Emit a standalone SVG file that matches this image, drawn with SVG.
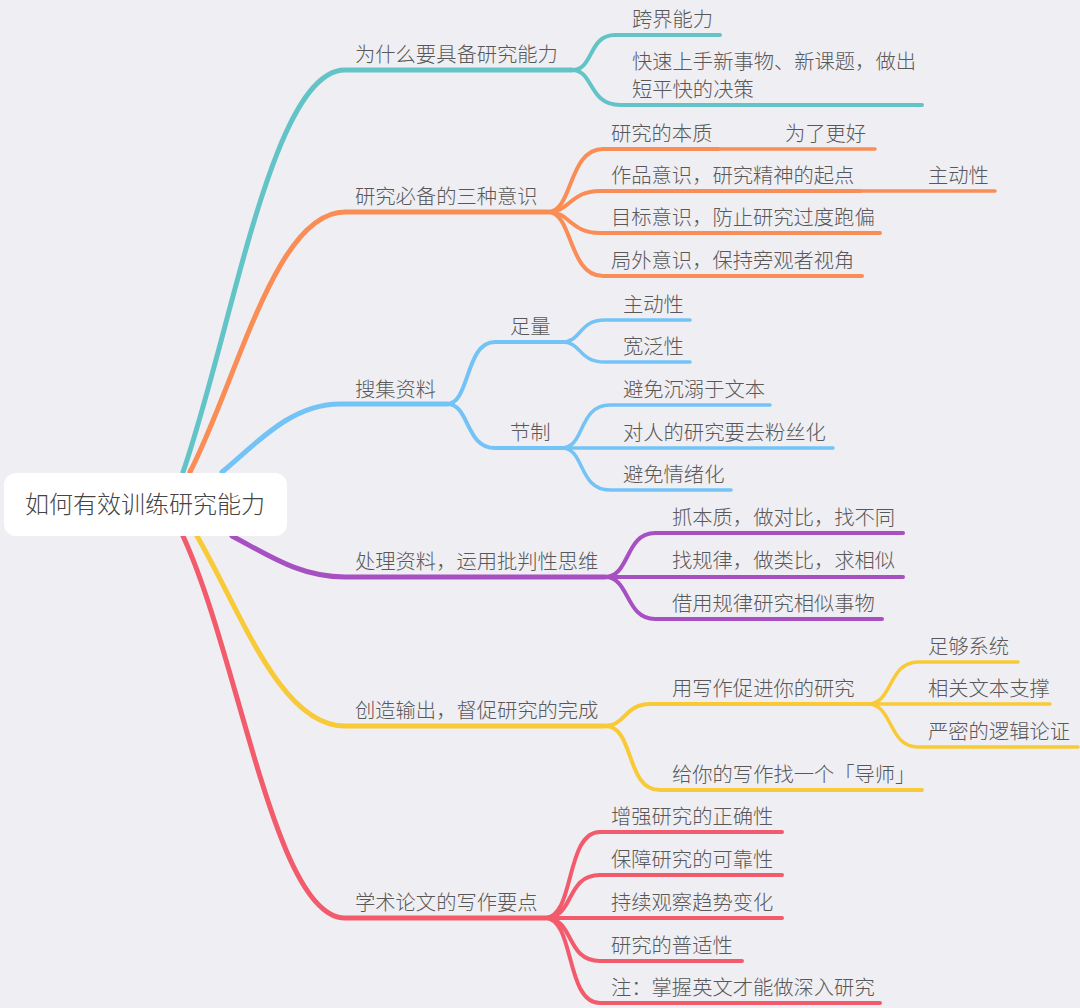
<svg xmlns="http://www.w3.org/2000/svg" width="1080" height="1008" viewBox="0 0 1080 1008">
<style>
text{font-family:"Noto Sans CJK SC","Noto Sans",sans-serif;font-size:20.3px;font-weight:300;fill:#585858}
.root{font-size:24px;fill:#444}
path{fill:none;stroke-linecap:round;stroke-linejoin:round}
.m{stroke-width:5}
.c{stroke-width:4}
.g{stroke-width:3.5}
.t{stroke:#62C4C7}.o{stroke:#F98D55}.b{stroke:#74C3F6}.p{stroke:#A650C2}.y{stroke:#F8CA37}.r{stroke:#F25B6B}
</style>
<rect width="1080" height="1008" fill="#EFEEF3"/>
<g id="connectors">
<path class="m t" d="M183,472 C232,331 272,70 345,70 L572,70"/>
<path class="c t" d="M572,70 C594,70 588,35 615,35 L720,35"/>
<path class="c t" d="M572,70 C594,70 588,105 620,105 L922,105"/>
<path class="m o" d="M190,472 C237,381 275,212 345,212 L548,212"/>
<path class="c o" d="M548,212 C573,212 568,149 603,149 L718,149"/>
<path class="g o" d="M718,149 L875,149"/>
<path class="c o" d="M548,212 C570,212 570,191 600,191 L860,191"/>
<path class="g o" d="M860,191 L995,191"/>
<path class="c o" d="M548,212 C570,212 570,233 600,233 L880,233"/>
<path class="c o" d="M548,212 C573,212 568,276 603,276 L862,276"/>
<path class="m b" d="M222,472 C255,445 290,404 340,404 L447,404"/>
<path class="c b" d="M447,404 C470,404 465,342 495,342 L562,342"/>
<path class="c b" d="M447,404 C470,404 465,448 495,448 L562,448"/>
<path class="g b" d="M562,342 C582,342 578,320 605,320 L690,320"/>
<path class="g b" d="M562,342 C582,342 578,362 605,362 L690,362"/>
<path class="g b" d="M562,448 C585,448 578,405 610,405 L770,405"/>
<path class="g b" d="M562,448 L833,448"/>
<path class="g b" d="M562,448 C585,448 578,490 610,490 L731,490"/>
<path class="m p" d="M232,536 C270,556 300,577 345,577 L605,577"/>
<path class="c p" d="M605,577 C630,577 625,533 655,533 L903,533"/>
<path class="c p" d="M605,577 L903,577"/>
<path class="c p" d="M605,577 C630,577 625,619 655,619 L882,619"/>
<path class="m y" d="M197,536 C240,610 280,726 345,726 L605,726"/>
<path class="c y" d="M605,726 C625,726 625,704 650,704 L868,704"/>
<path class="c y" d="M605,726 C635,726 625,790 660,790 L922,790"/>
<path class="g y" d="M868,704 C893,704 888,662 918,662 L1018,662"/>
<path class="g y" d="M868,704 L1050,704"/>
<path class="g y" d="M868,704 C893,704 888,747 918,747 L1078,747"/>
<path class="m r" d="M183,536 C240,660 275,918 345,918 L545,918"/>
<path class="c r" d="M545,918 C575,918 565,832 600,832 L782,832"/>
<path class="c r" d="M545,918 C575,918 565,875 600,875 L782,875"/>
<path class="c r" d="M545,918 L782,918"/>
<path class="c r" d="M545,918 C575,918 565,961 600,961 L742,961"/>
<path class="c r" d="M545,918 C575,918 565,1003 600,1003 L880,1003"/>
</g>
<g id="root"><rect x="4" y="473" width="283" height="63" rx="12" fill="#fff"/><text class="root" x="25" y="513">如何有效训练研究能力</text></g>
<g id="n-why"><text x="355" y="62">为什么要具备研究能力</text></g>
<g id="n-why-1"><text x="632" y="27">跨界能力</text></g>
<g id="n-why-2"><text x="632" y="69">快速上手新事物、新课题，做出</text><text x="632" y="97">短平快的决策</text></g>
<g id="n-aware"><text x="355" y="204">研究必备的三种意识</text></g>
<g id="n-aware-1"><text x="611" y="141">研究的本质</text></g>
<g id="n-aware-1-1"><text x="785" y="141">为了更好</text></g>
<g id="n-aware-2"><text x="611" y="183">作品意识，研究精神的起点</text></g>
<g id="n-aware-2-1"><text x="928" y="183">主动性</text></g>
<g id="n-aware-3"><text x="611" y="225">目标意识，防止研究过度跑偏</text></g>
<g id="n-aware-4"><text x="611" y="268">局外意识，保持旁观者视角</text></g>
<g id="n-collect"><text x="355" y="397">搜集资料</text></g>
<g id="n-collect-1"><text x="510" y="334">足量</text></g>
<g id="n-collect-1-1"><text x="623" y="312">主动性</text></g>
<g id="n-collect-1-2"><text x="623" y="354">宽泛性</text></g>
<g id="n-collect-2"><text x="510" y="440">节制</text></g>
<g id="n-collect-2-1"><text x="623" y="397">避免沉溺于文本</text></g>
<g id="n-collect-2-2"><text x="623" y="440">对人的研究要去粉丝化</text></g>
<g id="n-collect-2-3"><text x="623" y="482">避免情绪化</text></g>
<g id="n-process"><text x="355" y="569">处理资料，运用批判性思维</text></g>
<g id="n-process-1"><text x="672" y="525">抓本质，做对比，找不同</text></g>
<g id="n-process-2"><text x="672" y="568">找规律，做类比，求相似</text></g>
<g id="n-process-3"><text x="672" y="611">借用规律研究相似事物</text></g>
<g id="n-output"><text x="355" y="718">创造输出，督促研究的完成</text></g>
<g id="n-output-1"><text x="672" y="696">用写作促进你的研究</text></g>
<g id="n-output-1-1"><text x="928" y="654">足够系统</text></g>
<g id="n-output-1-2"><text x="928" y="696">相关文本支撑</text></g>
<g id="n-output-1-3"><text x="928" y="739">严密的逻辑论证</text></g>
<g id="n-output-2"><text x="672" y="782">给你的写作找一个「导师」</text></g>
<g id="n-paper"><text x="355" y="910">学术论文的写作要点</text></g>
<g id="n-paper-1"><text x="611" y="824">增强研究的正确性</text></g>
<g id="n-paper-2"><text x="611" y="867">保障研究的可靠性</text></g>
<g id="n-paper-3"><text x="611" y="910">持续观察趋势变化</text></g>
<g id="n-paper-4"><text x="611" y="953">研究的普适性</text></g>
<g id="n-paper-5"><text x="611" y="995">注：掌握英文才能做深入研究</text></g>
</svg>
